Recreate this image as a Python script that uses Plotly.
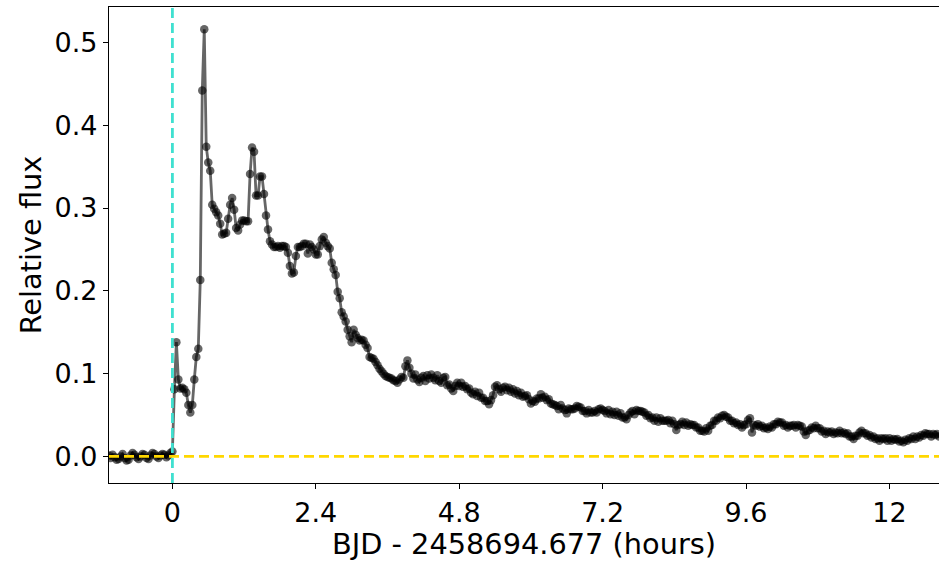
import numpy as np
import plotly.graph_objects as go

# 2-minute cadence light curve, time in hours relative to flare onset
CADENCE_HOURS = 2.0 / 60.0
FIRST_INDEX = -32

baseline = [0.001, -0.002, 0.002, -0.001, -0.004, -0.003, 0.000, 0.003, -0.002, -0.005,
            -0.004, 0.001, 0.004, 0.002, -0.001, -0.003, 0.000, 0.003, 0.002, -0.002,
            -0.003, 0.001, 0.004, 0.003, 0.000, -0.002, 0.001, 0.003, 0.002, -0.001,
            0.001, 0.004]
hour0 = [0.006, 0.081, 0.138, 0.093, 0.082, 0.083, 0.081, 0.077, 0.062, 0.053,
         0.062, 0.093, 0.120, 0.130, 0.213, 0.442, 0.516, 0.374, 0.355, 0.345,
         0.304, 0.299, 0.295, 0.291, 0.281, 0.268, 0.269, 0.270, 0.287, 0.304]
hour1 = [0.312, 0.298, 0.276, 0.273, 0.280, 0.285, 0.285, 0.284, 0.284, 0.341,
         0.373, 0.368, 0.315, 0.315, 0.338, 0.338, 0.317, 0.291, 0.274, 0.260,
         0.256, 0.253, 0.253, 0.254, 0.252, 0.254, 0.254, 0.253, 0.246, 0.230]
hour2 = [0.221, 0.222, 0.242, 0.253, 0.253, 0.254, 0.257, 0.257, 0.245, 0.256,
         0.253, 0.250, 0.244, 0.244, 0.254, 0.262, 0.265, 0.258, 0.254, 0.251,
         0.234, 0.226, 0.219, 0.199, 0.191, 0.174, 0.169, 0.163, 0.153, 0.145]
hour3 = [0.138, 0.153, 0.147, 0.143, 0.140, 0.141, 0.140, 0.135, 0.131, 0.120,
         0.119, 0.118, 0.114, 0.110, 0.106, 0.103, 0.100, 0.097, 0.096, 0.095,
         0.094, 0.092, 0.091, 0.089, 0.093, 0.096, 0.095, 0.109, 0.116, 0.107]
hour4 = [0.100, 0.094, 0.099, 0.093, 0.090, 0.095, 0.097, 0.091, 0.098, 0.094,
         0.099, 0.095, 0.092, 0.098, 0.091, 0.089, 0.095, 0.096, 0.086, 0.087,
         0.082, 0.079, 0.085, 0.089, 0.085, 0.089, 0.084, 0.085, 0.081, 0.082]
hour5 = [0.077, 0.075, 0.078, 0.073, 0.077, 0.071, 0.071, 0.067, 0.067, 0.063,
         0.068, 0.074, 0.084, 0.086, 0.081, 0.078, 0.083, 0.084, 0.080, 0.083,
         0.078, 0.081, 0.076, 0.079, 0.074, 0.077, 0.072, 0.073, 0.074, 0.069]
hour6 = [0.064, 0.067, 0.066, 0.070, 0.070, 0.075, 0.071, 0.072, 0.068, 0.069,
         0.064, 0.063, 0.062, 0.061, 0.057, 0.062, 0.058, 0.056, 0.052, 0.058,
         0.057, 0.057, 0.058, 0.061, 0.060, 0.059, 0.055, 0.055, 0.052, 0.056]
hour7 = [0.053, 0.053, 0.055, 0.053, 0.057, 0.058, 0.056, 0.055, 0.052, 0.056,
         0.051, 0.054, 0.050, 0.054, 0.049, 0.052, 0.047, 0.047, 0.045, 0.050,
         0.053, 0.055, 0.051, 0.056, 0.055, 0.055, 0.054, 0.053, 0.049, 0.050]
hour8 = [0.046, 0.047, 0.043, 0.047, 0.042, 0.046, 0.043, 0.043, 0.043, 0.044,
         0.040, 0.043, 0.039, 0.032, 0.038, 0.039, 0.042, 0.038, 0.041, 0.037,
         0.039, 0.038, 0.038, 0.035, 0.035, 0.031, 0.031, 0.030, 0.034, 0.031]
hour9 = [0.037, 0.038, 0.043, 0.043, 0.047, 0.046, 0.049, 0.050, 0.048, 0.047,
         0.043, 0.043, 0.040, 0.041, 0.038, 0.039, 0.035, 0.038, 0.039, 0.044,
         0.046, 0.029, 0.038, 0.037, 0.039, 0.036, 0.037, 0.034, 0.035, 0.033]
hour10 = [0.036, 0.035, 0.039, 0.039, 0.042, 0.041, 0.041, 0.037, 0.038, 0.035,
          0.037, 0.037, 0.038, 0.035, 0.038, 0.037, 0.036, 0.030, 0.026, 0.031,
          0.032, 0.035, 0.034, 0.037, 0.034, 0.034, 0.030, 0.031, 0.027, 0.030]
hour11 = [0.029, 0.030, 0.027, 0.029, 0.028, 0.031, 0.028, 0.029, 0.027, 0.028,
          0.024, 0.024, 0.021, 0.025, 0.025, 0.029, 0.031, 0.028, 0.028, 0.025,
          0.026, 0.023, 0.024, 0.021, 0.022, 0.019, 0.022, 0.021, 0.022, 0.019]
hour12 = [0.022, 0.019, 0.021, 0.020, 0.021, 0.018, 0.019, 0.017, 0.020, 0.019,
          0.022, 0.021, 0.024, 0.021, 0.024, 0.023, 0.026, 0.025, 0.028, 0.027,
          0.027, 0.024, 0.027, 0.026, 0.027, 0.024]

flux = (baseline + hour0 + hour1 + hour2 + hour3 + hour4 + hour5 + hour6
        + hour7 + hour8 + hour9 + hour10 + hour11 + hour12)
time_hours = (np.arange(len(flux)) + FIRST_INDEX) * CADENCE_HOURS

x_ticks = [0, 2.4, 4.8, 7.2, 9.6, 12]
x_tick_labels = ["0", "2.4", "4.8", "7.2", "9.6", "12"]
y_ticks = [0.0, 0.1, 0.2, 0.3, 0.4, 0.5]
y_tick_labels = ["0.0", "0.1", "0.2", "0.3", "0.4", "0.5"]

FONT = "DejaVu Sans"

fig = go.Figure()
fig.add_trace(go.Scatter(
    x=time_hours, y=flux, mode="lines+markers",
    line=dict(color="rgba(0,0,0,0.6)", width=2.8),
    marker=dict(color="rgba(0,0,0,0.6)", size=8.5, line=dict(width=0)),
    showlegend=False, hoverinfo="skip",
))

# flare onset and zero-flux reference lines
fig.add_shape(type="line", xref="x", yref="paper", x0=0, x1=0, y0=0, y1=1,
              line=dict(color="#40E0D0", width=2.8, dash="10px,5px"))
fig.add_shape(type="line", xref="paper", yref="y", x0=0, x1=1, y0=0, y1=0,
              line=dict(color="#FFD700", width=2.8, dash="10px,5px"))

fig.update_layout(
    width=939, height=562,
    margin=dict(l=109, r=0, t=7, b=79),
    paper_bgcolor="white", plot_bgcolor="white",
    font=dict(family=FONT, color="black"),
)
fig.update_xaxes(
    range=[-1.061, 12.83], tickvals=x_ticks, ticktext=x_tick_labels,
    showgrid=False, zeroline=False, showline=True, linecolor="black",
    linewidth=1.2, mirror=True, ticks="outside", ticklen=5, tickwidth=1.2,
    tickcolor="black", tickfont=dict(size=27, family=FONT),
    title=dict(text="BJD - 2458694.677 (hours)", font=dict(size=28.8, family=FONT),
               standoff=5),
)
fig.update_yaxes(
    range=[-0.0321, 0.5428], tickvals=y_ticks, ticktext=y_tick_labels,
    showgrid=False, zeroline=False, showline=True, linecolor="black",
    linewidth=1.2, ticks="outside", ticklen=5, tickwidth=1.2,
    tickcolor="black", tickfont=dict(size=27, family=FONT),
    title=dict(text="Relative flux", font=dict(size=28.8, family=FONT), standoff=4),
)

fig.write_html("out.html")
